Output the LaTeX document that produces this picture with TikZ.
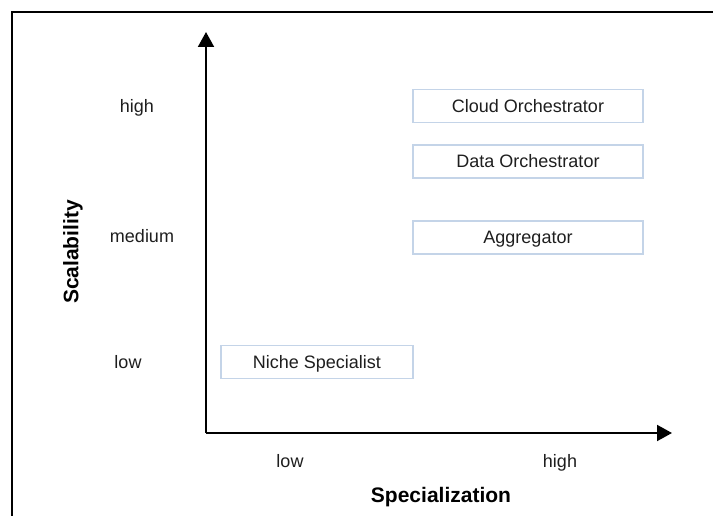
\documentclass[tikz,border=0pt]{standalone}
\usepackage{fontspec}
\setmainfont{Liberation Sans}
\usetikzlibrary{arrows.meta}
\definecolor{boxedge}{RGB}{196,212,232}
\definecolor{ink}{RGB}{30,30,30}
\tikzset{
  category/.style={draw=boxedge, line width=1.3pt, minimum width=230pt, minimum height=33pt,
    inner sep=0pt, text height=12.5pt, text depth=0pt, text=ink, font=\fontsize{18}{21}\selectfont},
  level/.style={font=\fontsize{18}{21}\selectfont, text=ink, inner sep=0pt, anchor=base},
  axistitle/.style={font=\fontsize{21}{24}\selectfont\bfseries, inner sep=0pt},
  axis/.style={line width=2pt, -{Triangle[length=15pt,width=16pt]}},
}
\begin{document}
\begin{tikzpicture}[x=1pt,y=-1pt]
  \useasboundingbox (0,0) rectangle (713,516);
  % frame (open at right and bottom)
  \draw[line width=2pt] (12,516) -- (12,12) -- (713,12);

  % axes
  \coordinate (origin) at (206,433);
  \coordinate (ytip) at (206,32);
  \coordinate (xtip) at (672,433);
  \draw[axis] (origin) -- (ytip);
  \draw[axis] (origin) -- (xtip);

  % vertical axis labels
  \node[level] (yhigh) at (137,113) {high};
  \node[level] (ymed) at (142,243) {medium};
  \node[level] (ylow) at (128,368) {low};
  \node[axistitle, rotate=90] (ytitle) at (73,252) {Scalability};

  % horizontal axis labels
  \node[level] (xlow) at (290,467) {low};
  \node[level] (xhigh) at (560,467) {high};
  \node[axistitle, anchor=base] (xtitle) at (441,502) {Specialization};

  % categories
  \node[category] (cloud) at (528,106) {Cloud Orchestrator};
  \node[category] (data) at (528,161.5) {Data Orchestrator};
  \node[category] (agg) at (528,237.5) {Aggregator};
  \node[category, minimum width=192pt] (niche) at (317,362) {Niche Specialist};
\end{tikzpicture}
\end{document}
